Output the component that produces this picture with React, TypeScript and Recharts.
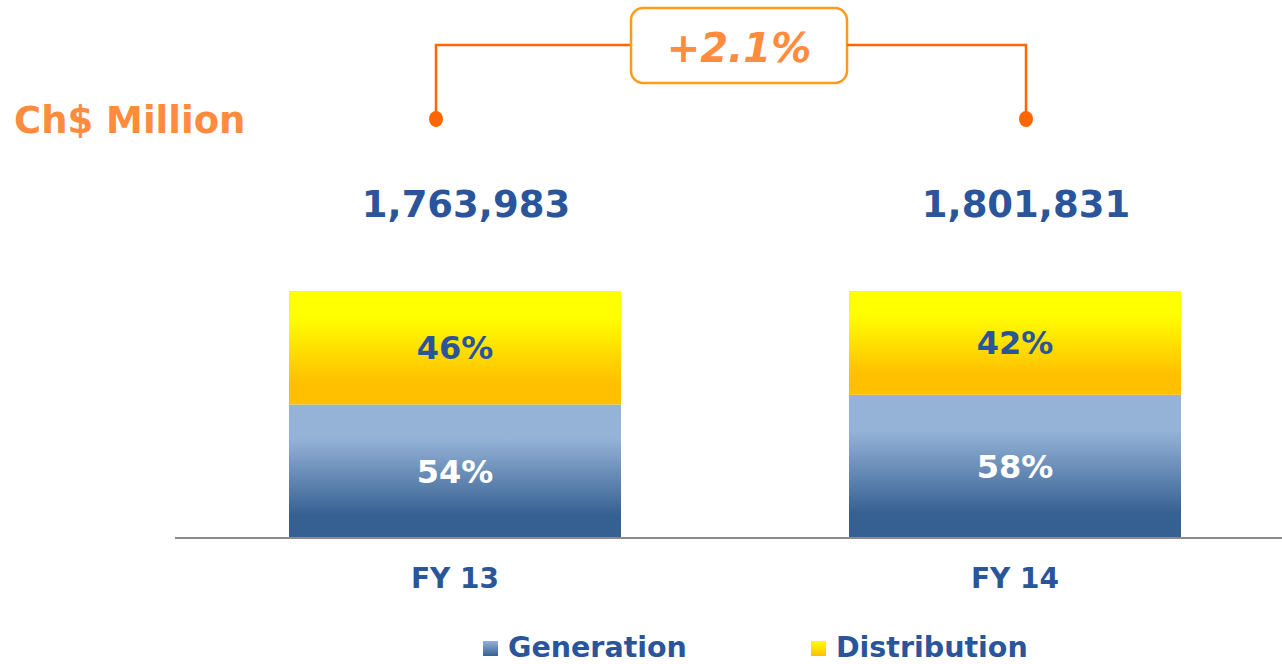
import { BarChart, Bar, XAxis, YAxis, LabelList, Legend } from "recharts";

const categories = ["FY 13", "FY 14"];
const generation = [54, 58];
const distribution = [46, 42];
const totals = ["1,763,983", "1,801,831"];
const growthLabel = "+2.1%";
const seriesNames = ["Generation", "Distribution"];
const unitLabel = "Ch$ Million";

const data = categories.map((name, i) => ({
  name,
  gen: generation[i],
  dist: distribution[i],
  total: totals[i],
}));

const CHART_W = 1300;
const CHART_H = 664;
const MARGIN = { top: 291, right: 5, bottom: 64, left: 175 };
const STEP = (CHART_W - MARGIN.left - MARGIN.right) / categories.length;

const BLUE = "#2A559B";
const ORANGE = "#FF8B3D";
const LINE_ORANGE = "#FF6600";
const FONT = "'DejaVu Sans', Verdana, sans-serif";

// totals above the bars plus the growth bracket joining them
function renderTop(props: any) {
  const { x, y, width, index, value } = props;
  const cx = Number(x) + Number(width) / 2;
  const top = Number(y);
  const armX = index === 0 ? cx - 19 : cx + 11;
  const lineY = top - 246;
  const dotY = top - 172;
  const boxCx = (index === 0 ? cx + STEP / 2 : cx - STEP / 2) + 4;
  const edge = index === 0 ? boxCx - 108 : boxCx + 108;
  return (
    <g>
      <text
        x={cx + 11}
        y={top - 74}
        textAnchor="middle"
        fill={BLUE}
        fontSize={37}
        fontWeight="bold"
        fontFamily={FONT}
      >
        {value}
      </text>
      <path
        d={`M${armX},${dotY} L${armX},${lineY} L${edge},${lineY}`}
        fill="none"
        stroke={LINE_ORANGE}
        strokeWidth={2.5}
      />
      <ellipse cx={armX} cy={dotY} rx={7} ry={8} fill={LINE_ORANGE} />
      {index === 0 && (
        <g>
          <rect
            x={boxCx - 108}
            y={top - 283}
            width={216}
            height={75}
            rx={12}
            fill="#fff"
            stroke="#FF9A1A"
            strokeWidth={2.5}
          />
          <text
            x={boxCx}
            y={top - 229}
            textAnchor="middle"
            fill={ORANGE}
            fontSize={40}
            fontWeight="bold"
            fontStyle="italic"
            fontFamily={FONT}
          >
            {growthLabel}
          </text>
        </g>
      )}
    </g>
  );
}

function renderLegend() {
  const icons = [
    "linear-gradient(#95B3D7, #366092)",
    "linear-gradient(#FFFF00, #FFC000)",
  ];
  return (
    <div
      style={{
        display: "flex",
        alignItems: "center",
        height: 32,
        paddingLeft: 483,
        fontFamily: FONT,
        fontWeight: "bold",
        fontSize: 28.5,
        lineHeight: "32px",
        color: BLUE,
      }}
    >
      {seriesNames.map((n, i) => (
        <div
          key={n}
          style={{ display: "flex", alignItems: "center", marginLeft: i === 0 ? 0 : 124 }}
        >
          <span style={{ width: 15, height: 15, background: icons[i], marginRight: 10 }} />
          <span>{n}</span>
        </div>
      ))}
    </div>
  );
}

export default function App() {
  return (
    <div
      style={{
        position: "absolute",
        left: 0,
        top: 0,
        width: 1282,
        height: 664,
        overflow: "hidden",
        background: "#fff",
        fontFamily: FONT,
      }}
    >
      <div
        style={{
          position: "absolute",
          left: 14,
          top: 102,
          fontSize: 37,
          lineHeight: "37px",
          fontWeight: "bold",
          color: ORANGE,
          whiteSpace: "nowrap",
          zIndex: 2,
        }}
      >
        {unitLabel}
      </div>
      <BarChart width={CHART_W} height={CHART_H} data={data} margin={MARGIN}>
        <defs>
          <linearGradient id="genGrad" x1="0" y1="0" x2="0" y2="1">
            <stop offset="0%" stopColor="#95B3D7" />
            <stop offset="25%" stopColor="#95B3D7" />
            <stop offset="83%" stopColor="#366092" />
            <stop offset="100%" stopColor="#366092" />
          </linearGradient>
          <linearGradient id="distGrad" x1="0" y1="0" x2="0" y2="1">
            <stop offset="0%" stopColor="#FFFF00" />
            <stop offset="22%" stopColor="#FFFF00" />
            <stop offset="80%" stopColor="#FFC000" />
            <stop offset="100%" stopColor="#FFC000" />
          </linearGradient>
        </defs>
        <XAxis
          dataKey="name"
          axisLine={{ stroke: "#8C8C8C", strokeWidth: 2 }}
          tickLine={false}
          tickMargin={24}
          tick={{ fill: BLUE, fontSize: 28, fontWeight: "bold", fontFamily: FONT }}
        />
        <YAxis hide domain={[0, 100]} />
        <Legend
          content={renderLegend}
          wrapperStyle={{ left: 0, bottom: 0, width: 1282, height: 32 }}
        />
        <Bar
          dataKey="gen"
          name={seriesNames[0]}
          stackId="a"
          fill="url(#genGrad)"
          barSize={332}
          isAnimationActive={false}
        >
          <LabelList
            dataKey="gen"
            position="center"
            formatter={(v: any) => `${v}%`}
            fill="#fff"
            fontSize={32}
            fontWeight="bold"
            fontFamily={FONT}
          />
        </Bar>
        <Bar
          dataKey="dist"
          name={seriesNames[1]}
          stackId="a"
          fill="url(#distGrad)"
          barSize={332}
          isAnimationActive={false}
        >
          <LabelList
            dataKey="dist"
            position="center"
            formatter={(v: any) => `${v}%`}
            fill={BLUE}
            fontSize={32}
            fontWeight="bold"
            fontFamily={FONT}
          />
          <LabelList dataKey="total" content={renderTop} />
        </Bar>
      </BarChart>
    </div>
  );
}
